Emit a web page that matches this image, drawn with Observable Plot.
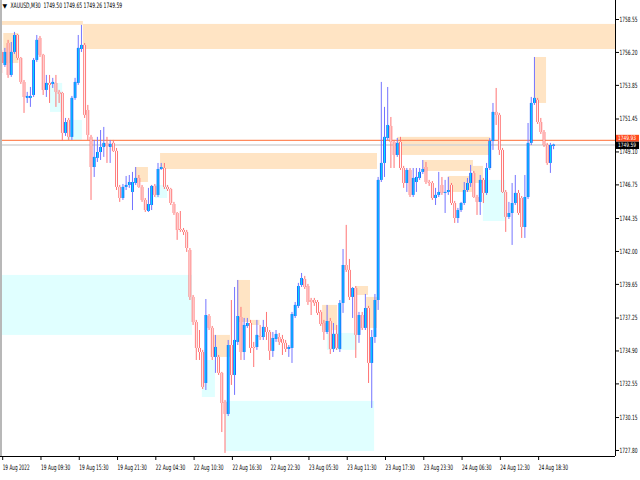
<!DOCTYPE html>
<html><head><meta charset="utf-8">
<script src="https://cdn.jsdelivr.net/npm/d3@7"></script>
<script src="https://cdn.jsdelivr.net/npm/@observablehq/plot@0.6"></script>
<style>body{margin:0;background:#fff;} svg{display:block;}</style>
</head><body><div id="chart"></div>
<script>
const symbolTitle = "XAUUSD,M30  1749.50 1749.65 1749.26 1749.59";

const open = [
1756.20,1755.27,1756.84,1754.56,1756.20,1757.41,1755.77,1754.06,1752.92,1752.92,
1753.13,1755.63,1757.20,1755.99,1753.49,1753.99,1753.92,1753.99,1753.35,1753.27,
1750.42,1751.35,1750.14,1752.92,1753.99,1756.41,1756.70,1752.06,1750.14,1747.99,
1748.64,1749.06,1749.42,1749.71,1749.42,1749.71,1749.14,1746.57,1745.78,1746.57,
1746.71,1746.21,1746.85,1747.21,1746.57,1745.64,1744.85,1745.28,1746.64,1746.00,
1747.85,1747.92,1746.57,1746.42,1745.35,1744.71,1743.57,1743.50,1743.36,1742.07,
1738.72,1736.93,1735.08,1734.79,1732.58,1737.36,1736.51,1734.44,1734.44,1733.30,
1731.23,1730.37,1735.29,1733.15,1735.51,1737.29,1734.79,1736.65,1736.86,1735.15,
1735.15,1735.94,1735.86,1736.58,1736.22,1734.87,1735.72,1735.86,1735.72,1735.44,
1735.01,1735.08,1737.36,1738.08,1739.57,1740.00,1739.50,1738.50,1738.50,1738.36,
1737.65,1736.86,1736.22,1737.00,1735.01,1736.08,1735.01,1738.29,1741.00,1740.65,
1738.72,1739.36,1736.01,1737.43,1736.51,1737.93,1734.01,1735.86,1738.50,1747.07,
1748.28,1750.06,1750.92,1749.78,1748.85,1749.78,1747.92,1746.85,1747.78,1746.00,
1746.92,1747.21,1747.64,1747.99,1746.92,1746.85,1745.78,1746.00,1746.71,1746.14,
1746.21,1746.71,1745.42,1744.35,1744.92,1745.42,1746.35,1746.85,1747.57,1745.85,
1745.50,1747.07,1746.14,1747.92,1749.85,1751.92,1751.71,1749.21,1746.21,1744.43,
1744.71,1745.42,1746.14,1745.78,1743.71,1745.85,1749.71,1752.56,1752.78,1751.20,
1750.49,1749.56,1748.28,1749.50];

const high = [
1756.34,1756.49,1757.06,1756.91,1757.63,1757.48,1755.84,1754.20,1753.35,1753.70,
1755.77,1757.41,1757.34,1756.06,1754.56,1754.56,1754.35,1754.56,1753.49,1753.35,
1751.49,1751.49,1753.06,1754.35,1757.41,1758.13,1756.84,1752.42,1750.28,1749.92,
1750.14,1750.63,1750.85,1750.14,1749.92,1749.92,1749.35,1746.71,1746.78,1747.35,
1747.42,1747.64,1747.99,1747.42,1746.71,1745.78,1746.50,1746.71,1746.78,1748.28,
1748.28,1748.28,1746.71,1746.50,1745.50,1744.78,1744.85,1743.64,1743.50,1742.21,
1738.86,1737.08,1736.36,1734.94,1738.57,1737.50,1736.65,1736.01,1734.58,1733.37,
1731.37,1735.65,1738.50,1739.43,1739.93,1738.01,1737.22,1737.22,1737.08,1735.51,
1737.08,1736.72,1737.08,1737.65,1736.36,1736.22,1736.36,1736.15,1736.01,1735.65,
1735.29,1737.65,1738.36,1739.72,1740.43,1740.22,1739.65,1738.65,1738.65,1738.50,
1737.79,1737.08,1738.15,1737.22,1736.86,1736.72,1738.50,1742.14,1743.86,1741.43,
1739.43,1739.50,1737.65,1737.65,1738.93,1738.08,1736.36,1738.93,1747.28,1754.06,
1752.28,1753.70,1751.56,1749.92,1750.06,1750.14,1748.07,1747.92,1747.92,1747.92,
1747.92,1747.92,1748.49,1748.35,1747.07,1746.99,1746.50,1747.64,1747.28,1747.07,
1747.28,1746.85,1745.57,1745.07,1745.50,1746.92,1747.21,1748.14,1747.71,1746.00,
1747.42,1747.21,1748.28,1750.06,1752.56,1753.63,1751.85,1749.35,1746.35,1745.50,
1746.85,1747.42,1746.35,1745.92,1747.42,1751.13,1752.99,1755.84,1752.92,1751.49,
1750.63,1749.71,1749.71,1749.65];

const low = [
1754.70,1755.13,1754.35,1754.42,1756.06,1755.63,1753.92,1751.85,1752.56,1752.28,
1752.99,1755.49,1755.84,1753.13,1752.99,1752.56,1753.63,1752.28,1752.56,1749.85,
1750.21,1749.92,1749.92,1752.78,1753.85,1756.20,1751.49,1749.92,1745.64,1747.28,
1748.35,1748.49,1748.71,1748.28,1748.28,1749.06,1746.35,1745.50,1745.64,1746.35,
1746.50,1744.92,1746.71,1746.50,1745.50,1744.78,1744.78,1744.92,1745.85,1745.85,
1747.78,1746.42,1746.28,1745.28,1744.57,1742.79,1743.36,1743.14,1741.93,1738.50,
1736.72,1734.22,1734.22,1732.15,1732.08,1736.36,1734.22,1733.30,1733.15,1729.08,
1727.59,1730.22,1732.44,1731.73,1735.29,1734.22,1734.22,1736.51,1734.72,1733.72,
1734.94,1735.65,1735.65,1735.65,1734.22,1734.44,1735.51,1735.29,1734.58,1734.79,
1734.44,1734.01,1737.22,1737.93,1739.43,1739.29,1738.15,1737.43,1738.08,1737.43,
1736.65,1735.65,1736.08,1734.65,1734.79,1734.94,1734.79,1737.58,1740.50,1738.50,
1737.22,1734.37,1735.44,1736.36,1736.36,1732.58,1730.80,1735.44,1737.79,1746.92,
1747.28,1749.92,1747.92,1747.92,1748.71,1747.78,1746.50,1746.21,1745.85,1745.85,
1746.21,1747.07,1747.49,1746.78,1746.64,1745.64,1745.28,1745.85,1746.00,1744.71,
1746.00,1745.28,1744.00,1744.00,1744.78,1745.28,1746.21,1746.57,1745.78,1744.57,
1744.57,1745.42,1746.00,1747.78,1749.21,1750.99,1748.85,1746.14,1743.36,1744.28,
1742.43,1745.28,1744.57,1742.93,1742.93,1745.71,1749.56,1752.42,1751.06,1750.35,
1749.42,1748.14,1747.57,1749.26];

const close = [
1755.41,1756.20,1754.56,1756.20,1757.41,1755.77,1754.06,1752.99,1753.06,1753.06,
1755.63,1757.06,1755.99,1753.49,1753.99,1753.85,1754.06,1753.35,1753.20,1750.42,
1751.20,1750.14,1752.92,1754.06,1756.49,1756.70,1751.71,1750.28,1747.99,1748.71,
1749.06,1749.42,1749.71,1749.49,1749.64,1749.14,1746.57,1745.78,1746.57,1746.71,
1746.92,1746.92,1747.21,1746.57,1745.64,1744.92,1745.35,1746.64,1746.00,1747.85,
1747.99,1746.57,1746.42,1745.42,1744.71,1743.50,1743.50,1743.36,1742.21,1738.72,
1736.93,1735.08,1734.79,1732.30,1737.43,1736.51,1734.44,1735.15,1733.30,1731.15,
1730.37,1735.29,1733.15,1735.65,1737.36,1734.79,1736.72,1736.86,1735.08,1735.08,
1736.01,1735.86,1736.58,1736.22,1734.87,1735.79,1736.08,1735.51,1735.44,1735.01,
1735.15,1737.50,1738.15,1739.50,1740.07,1739.43,1738.36,1738.36,1738.29,1737.58,
1736.79,1736.22,1737.00,1735.01,1736.08,1735.08,1738.29,1741.00,1740.65,1738.72,
1739.36,1736.01,1737.43,1736.51,1737.93,1734.01,1735.86,1738.50,1747.07,1748.28,
1750.14,1750.99,1749.78,1748.85,1749.71,1747.92,1746.85,1747.78,1746.00,1747.21,
1747.28,1747.64,1747.85,1746.92,1746.85,1745.78,1746.00,1746.21,1746.14,1746.21,
1746.35,1745.42,1744.35,1744.92,1745.42,1746.35,1746.85,1747.57,1745.85,1745.50,
1747.07,1746.14,1747.92,1749.85,1751.92,1751.71,1749.21,1746.21,1744.43,1744.71,
1745.42,1746.14,1744.71,1743.71,1745.85,1749.71,1752.56,1752.92,1751.20,1750.49,
1749.56,1748.28,1749.56,1749.59];

const timeLabels = ["19 Aug 2022","19 Aug 09:30","19 Aug 15:30","19 Aug 21:30","22 Aug 04:30",
  "22 Aug 10:30","22 Aug 16:30","22 Aug 22:30","23 Aug 05:30","23 Aug 11:30","23 Aug 17:30",
  "23 Aug 23:30","24 Aug 06:30","24 Aug 12:30","24 Aug 18:30"];
const labelBars = [0,12,24,36,48,60,72,84,96,108,120,132,144,156,168];

const yTickValues = [1758.55,1756.20,1753.85,1751.45,1749.10,1746.75,1744.35,1742.00,
  1739.65,1737.25,1734.90,1732.55,1730.15,1727.80];

// zones: kind, start bar, end bar, upper price, lower price
const zoneKind  = ["s","s","s","s","s","s","s","s","s","s","s","s","s","s","s","s",
                   "d","d","d","d","d","d","d","d"];
const zoneStart = [-0.4,25.6,0.66,41.9,49.8,124.1,132.2,147.9,140.0,167.0,73.9,65.8,78.0,100.6,110.9,114.4,
                   -0.4,70.2,15.3,20.6,48.2,151.0,62.9,102.1];
const zoneEnd   = [25.6,192.5,5.36,46.0,117.8,153.2,147.9,151.0,147.6,170.8,78.0,71.7,81.0,105.3,115.0,117.8,
                   59.8,116.9,19.1,25.3,52.0,158.0,67.0,111.5];
const zoneHigh  = [1758.41,1758.20,1757.55,1747.99,1748.99,1750.14,1748.49,1748.07,1747.35,1755.84,1739.93,1736.01,1737.08,1738.15,1739.50,1738.72,
                   1740.29,1731.30,1753.99,1751.35,1746.71,1747.07,1734.22,1736.15];
const zoneLow   = [1758.13,1756.41,1755.41,1746.92,1747.85,1748.85,1747.71,1746.85,1746.21,1752.56,1736.93,1734.44,1736.72,1736.36,1738.86,1736.51,
                   1736.01,1727.73,1751.92,1749.92,1745.78,1744.14,1731.58,1734.94];

const orangeLevel = 1749.93;
const bidLevel = 1749.59;

const xDomain = [-0.376, 192.41];
const yDomain = [1727.37, 1759.906];

const bars = open.map((o, i) => ({
  i, o, h: high[i], l: low[i], c: close[i], up: close[i] >= o,
  top: Math.max(o, close[i]), bot: Math.min(o, close[i])
}));
const zones = zoneKind.map((k, j) => ({k, x1: zoneStart[j], x2: zoneEnd[j], y1: zoneLow[j], y2: zoneHigh[j]}));

const plot = Plot.plot({
  width: 640, height: 480,
  marginLeft: 0, marginRight: 25, marginTop: 0, marginBottom: 24,
  style: {fontFamily: "DejaVu Sans", fontSize: "7px", background: "#fff", overflow: "visible"},
  x: {domain: xDomain, axis: null},
  y: {domain: yDomain, axis: null},
  marks: [
    Plot.rect(zones, {x1: "x1", x2: "x2", y1: "y1", y2: "y2",
      fill: d => d.k === "s" ? "#FFE4C4" : "#E0FFFF"}),
    Plot.ruleY([orangeLevel], {stroke: "#FF8A5C", strokeWidth: 1.3}),
    Plot.ruleY([bidLevel], {stroke: "#D4D4D4", strokeWidth: 1.5}),
    Plot.ruleX(bars, {x: "i", y1: "l", y2: "h", stroke: d => d.up ? "#7474FF" : "#FF7474", strokeWidth: 1}),
    Plot.ruleX(bars, {x: "i", y1: "bot", y2: "top", stroke: d => d.up ? "#1E5AFF" : "#FF6A6A", strokeWidth: 2.8}),
    Plot.ruleX(bars, {x: "i", y1: "bot", y2: "top", stroke: d => d.up ? "#00E8FF" : "#FFFFFF", strokeWidth: 1}),
    Plot.ruleY([yDomain[0]], {stroke: "#000", strokeWidth: 1}),
    Plot.ruleX([xDomain[1]], {stroke: "#000", strokeWidth: 1}),
    Plot.ruleX([xDomain[0]], {stroke: "#B8B8B8", strokeWidth: 3}),
    Plot.axisY(yTickValues, {anchor: "right", tickSize: 3, tickPadding: 1, fontSize: 7.2,
      tickFormat: d => d.toFixed(2), fill: "#000"}),
    Plot.axisX(labelBars, {anchor: "bottom", tickSize: 4, tickPadding: 4, fontSize: 7.5,
      tickFormat: (d) => timeLabels[labelBars.indexOf(d)], textAnchor: "start", dx: 1, fill: "#000"}),
    Plot.text(["\u25BC"], {frameAnchor: "top-left", dx: 2, dy: 3, fontSize: 6, textAnchor: "start", lineAnchor: "top", fill: "#000"}),
    Plot.text([symbolTitle], {frameAnchor: "top-left", dx: 10, dy: 2, fontSize: 7.5, textAnchor: "start", lineAnchor: "top", fill: "#000", className: "ttl"})
  ]
});

// price labels on the right scale (orange label sits just above the black bid label)
const ys = plot.scale("y");
const xs = plot.scale("x");
const svg = d3.select(plot);
const xr = xs.apply(xDomain[1]);
const boxTexts = [];
[[orangeLevel, "#FF4A1C", -5, 1.8], [bidLevel, "#000000", -2.9, 4.4]].forEach(([v, col, up, down]) => {
  const py = ys.apply(v);
  const g = svg.append("g");
  g.append("rect").attr("x", xr + 1).attr("y", py + up).attr("width", 23).attr("height", down - up).attr("fill", col);
  boxTexts.push(g.append("text").attr("x", xr + 3).attr("y", py + down - 1.7).attr("fill", "#fff")
    .attr("text-anchor", "start").attr("font-size", 6).text(v.toFixed(2)).node());
});

document.getElementById("chart").appendChild(plot);

// condense texts horizontally (the terminal uses a narrow font)
function condense(t, target) {
  const w = t.getComputedTextLength();
  if (!w) return;
  const b = t.getBBox();
  const x0 = b.x;
  const sx = target / w;
  const tr = t.getAttribute("transform") || "";
  t.setAttribute("transform", `${tr} translate(${x0},0) scale(${sx},1) translate(${-x0},0)`);
}
plot.querySelectorAll('g[aria-label="y-axis tick label"] text').forEach(t => condense(t, 18));
plot.querySelectorAll('g[aria-label="x-axis tick label"] text').forEach(t => condense(t, t.textContent.length * 2.45));
plot.querySelectorAll('.ttl text').forEach(t => condense(t, 112));
boxTexts.forEach(t => condense(t, 18));
</script>
</body></html>
